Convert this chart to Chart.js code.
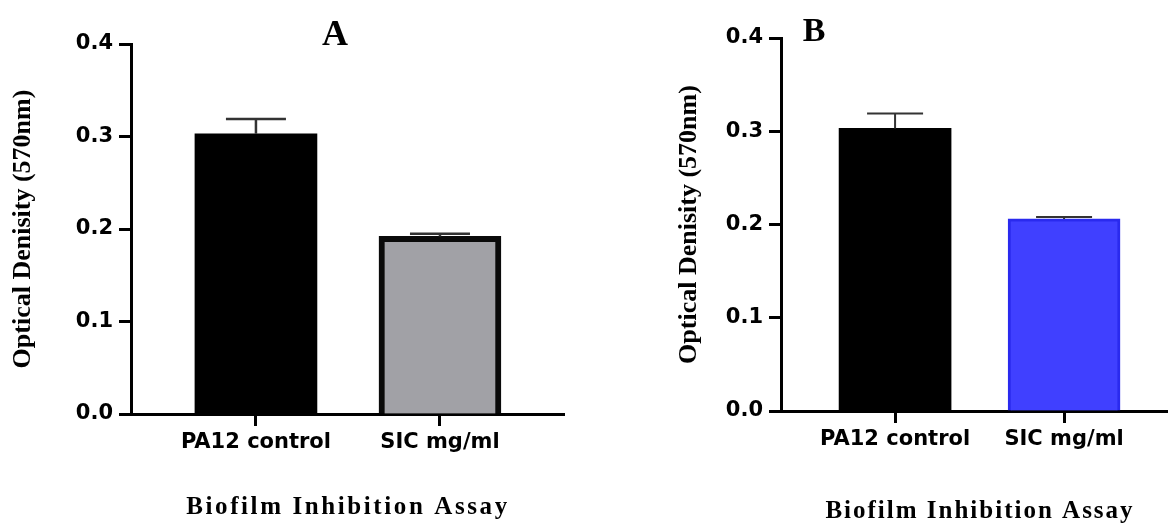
<!DOCTYPE html>
<html>
<head>
<meta charset="utf-8">
<script src="https://cdn.jsdelivr.net/npm/chart.js@4.4.1/dist/chart.umd.min.js"></script>
<style>
  body { margin: 0; background: #fff; }
  canvas { position: absolute; top: 0; }
  #chartA { left: 0; }
  #chartB { left: 584px; }
</style>
</head>
<body>
<canvas id="chartA" width="584" height="525"></canvas>
<canvas id="chartB" width="584" height="525"></canvas>
<script>
// data
var categories = ['PA12 control', 'SIC mg/ml'];
var valuesA = [0.303, 0.192];
var errorsA = [0.016, 0.003];
var valuesB = [0.303, 0.206];
var errorsB = [0.016, 0.002];
var yTicks = [0, 0.1, 0.2, 0.3, 0.4];
var yTitle = 'Optical Denisity (570nm)';
var caption = 'Biofilm Inhibition Assay';

// error bars (upper half only, lower half hides inside the bar)
var errorBars = {
  id: 'errorBars',
  afterDatasetsDraw: function (chart, args, opts) {
    var ctx = chart.ctx, y = chart.scales.y;
    var ds = chart.data.datasets[0];
    ctx.save();
    ctx.strokeStyle = opts.color;
    ctx.lineWidth = opts.width;
    chart.getDatasetMeta(0).data.forEach(function (bar, i) {
      var top = y.getPixelForValue(ds.data[i].y + opts.errors[i]);
      ctx.beginPath();
      ctx.moveTo(bar.x, bar.y);
      ctx.lineTo(bar.x, top);
      ctx.moveTo(bar.x - opts.cap, top);
      ctx.lineTo(bar.x + opts.cap, top);
      ctx.stroke();
    });
    ctx.restore();
  }
};

// panel letter and the caption under the axis
var panelText = {
  id: 'panelText',
  afterDraw: function (chart, args, opts) {
    var ctx = chart.ctx;
    ctx.save();
    ctx.fillStyle = '#000';
    ctx.textAlign = 'center';
    ctx.textBaseline = 'middle';
    ctx.font = 'bold ' + opts.letterSize + 'px "Liberation Serif"';
    ctx.fillText(opts.letter, opts.letterX, opts.letterY);
    ctx.font = 'bold 25px "Liberation Serif"';
    ctx.letterSpacing = opts.spacing;
    ctx.fillText(caption, opts.captionX, opts.captionY);
    ctx.restore();
  }
};

function makeChart(id, p) {
  var tickFont = { family: 'DejaVu Sans', weight: 'bold', size: 21 };
  return new Chart(document.getElementById(id), {
    type: 'bar',
    data: {
      datasets: [{
        data: categories.map(function (c, i) { return { x: i + 1, y: p.values[i] }; }),
        backgroundColor: p.fill,
        borderColor: p.border,
        borderWidth: p.borderWidth,
        borderSkipped: 'start',
        barThickness: p.barWidth
      }]
    },
    options: {
      responsive: false,
      animation: false,
      devicePixelRatio: 1,
      layout: { padding: { top: p.top, right: p.right, bottom: 0, left: 0 } },
      scales: {
        x: {
          type: 'linear',
          offset: false,
          min: p.xMin,
          max: p.xMax,
          afterBuildTicks: function (s) { s.ticks = categories.map(function (c, i) { return { value: i + 1 }; }); },
          afterFit: function (s) { s.height = 525 - p.bottom; },
          ticks: {
            autoSkip: false,
            color: '#000',
            font: tickFont,
            padding: 4,
            callback: function (v) { return categories[v - 1]; }
          },
          grid: { offset: false, drawOnChartArea: false, drawTicks: true, tickLength: 12, tickWidth: 3, tickColor: '#000' },
          border: { display: true, color: '#000', width: 3 }
        },
        y: {
          min: 0,
          max: 0.4,
          afterBuildTicks: function (s) { s.ticks = yTicks.map(function (v) { return { value: v }; }); },
          afterFit: function (s) { s.width = p.left; },
          ticks: {
            color: '#000',
            font: tickFont,
            padding: 6,
            callback: function (v) { return v.toFixed(1); }
          },
          grid: { drawOnChartArea: false, drawTicks: true, tickLength: 12, tickWidth: 3, tickColor: '#000' },
          border: { display: true, color: '#000', width: 3 },
          title: {
            display: true,
            text: yTitle,
            color: '#000',
            font: { family: 'Liberation Serif', weight: 'bold', size: 26 },
            padding: { top: p.titlePad, bottom: 0 }
          }
        }
      },
      plugins: {
        legend: { display: false },
        tooltip: { enabled: false },
        errorBars: { errors: p.errors, color: '#333', width: p.errWidth, cap: p.cap },
        panelText: p.text
      }
    },
    plugins: [errorBars, panelText]
  });
}

makeChart('chartA', {
  values: valuesA, errors: errorsA,
  fill: ['#000000', '#a1a1a6'], border: ['#000000', '#0a0a0a'], borderWidth: [0, 6],
  barWidth: 122, left: 131, right: 20, top: 44, bottom: 414,
  xMin: 0.321, xMax: 2.674, titlePad: 8, errWidth: 2.5, cap: 30,
  text: { letter: 'A', letterSize: 36, letterX: 335, letterY: 36, captionX: 348, captionY: 508, spacing: '2.6px' }
});

makeChart('chartB', {
  values: valuesB, errors: errorsB,
  fill: ['#000000', '#4040ff'], border: ['#000000', '#2a2aee'], borderWidth: [0, 3],
  barWidth: 112, left: 197, right: 0, top: 38, bottom: 411,
  xMin: 0.325, xMax: 2.615, titlePad: 90, errWidth: 2, cap: 28,
  text: { letter: 'B', letterSize: 34, letterX: 230, letterY: 32, captionX: 396, captionY: 512, spacing: '2px' }
});
</script>
</body>
</html>
